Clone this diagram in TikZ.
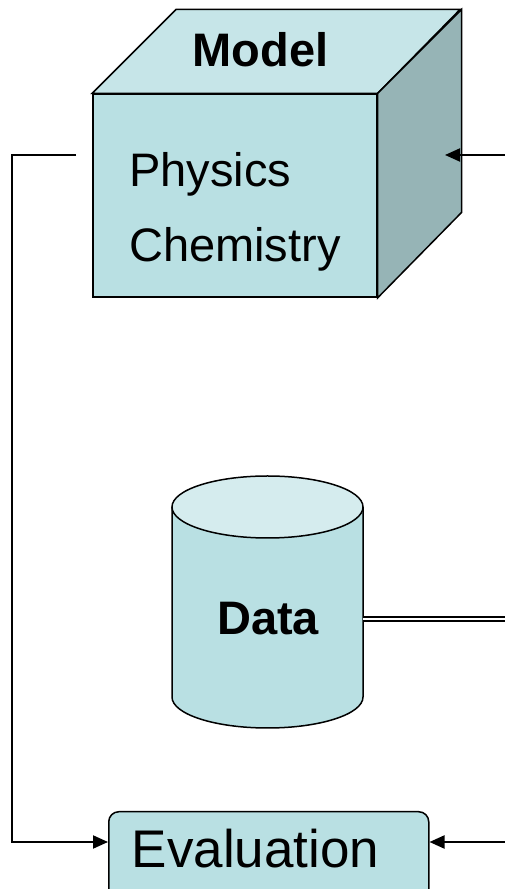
\documentclass[tikz,border=0pt]{standalone}
\usepackage{fontspec}
\setmainfont{Liberation Sans}
\usetikzlibrary{arrows.meta}
\definecolor{facefront}{HTML}{B9E0E3}
\definecolor{facetop}{HTML}{C6E5E8}
\definecolor{faceside}{HTML}{96B4B6}
\definecolor{drumtop}{HTML}{D5ECEE}
\begin{document}
\begin{tikzpicture}[x=1pt,y=1pt,
  outline/.style={draw=black,line width=1.5pt,line join=miter},
  link/.style={line width=2pt},
  tip/.style={-{Triangle[length=15pt,width=13pt]}},
  big/.style={font=\fontsize{47}{56}\selectfont},
  label/.style={big,anchor=base,inner sep=0pt}]
\useasboundingbox (0,0) rectangle (505,889);

% model cube: front face, top face, side face
\node[outline,fill=facefront,minimum width=284pt,minimum height=203pt,
      anchor=south west,inner sep=0pt] (front) at (92,591) {};
\filldraw[outline,fill=facetop] (front.north west) -- ++(84,84) -- ++(284,0)
  -- (front.north east) -- cycle;
\filldraw[outline,fill=faceside] (front.north east) -- ++(84,84) -- ++(0,-203)
  -- (front.south east) -- cycle;
\node[big] (model) at (260.5,839) {\bfseries Model};
\node[big,anchor=base west,inner sep=0pt] (physics) at (129,702) {Physics};
\node[big,anchor=base west,inner sep=0pt] (chemistry) at (129,627) {Chemistry};

% data drum
\fill[facefront] (172,382) -- (172,192)
  arc[start angle=180,end angle=360,x radius=95.5,y radius=31] -- (363,382) -- cycle;
\draw[outline] (172,382) -- (172,192)
  arc[start angle=180,end angle=360,x radius=95.5,y radius=31] -- (363,382);
\filldraw[outline,fill=drumtop] (267.5,382) ellipse[x radius=95.5,y radius=31];
\node[label] (data) at (268,254) {\bfseries Data};

% evaluation box
\node[outline,rounded corners=10pt,fill=facefront,minimum width=320pt,
      minimum height=110pt,anchor=north west,inner sep=0pt] (eval) at (108,78) {};
\node[label,font=\fontsize{53}{62}\selectfont] (evaltext) at (255.5,21) {Evaluation};

% connectors
\coordinate (loopstart) at (76,734);
\coordinate (cubeport) at (445,734);
\coordinate (feedin) at (505,734);
\coordinate (dataport) at (363,270);
\coordinate (dataout) at (505,270);
\coordinate (evalin) at (505,47);
\coordinate (evalL) at ([yshift=-31pt]eval.north west);
\coordinate (evalR) at ([yshift=-31pt]eval.north east);

\draw[link,tip] (loopstart) -- ++(-64,0) |- (evalL);
\draw[link,tip] (feedin) -- (cubeport);
\draw[link,tip] (evalin) -- (evalR);
\draw[line width=1.4pt,double distance=2.8pt] (dataport) -- (dataout);
\end{tikzpicture}
\end{document}
